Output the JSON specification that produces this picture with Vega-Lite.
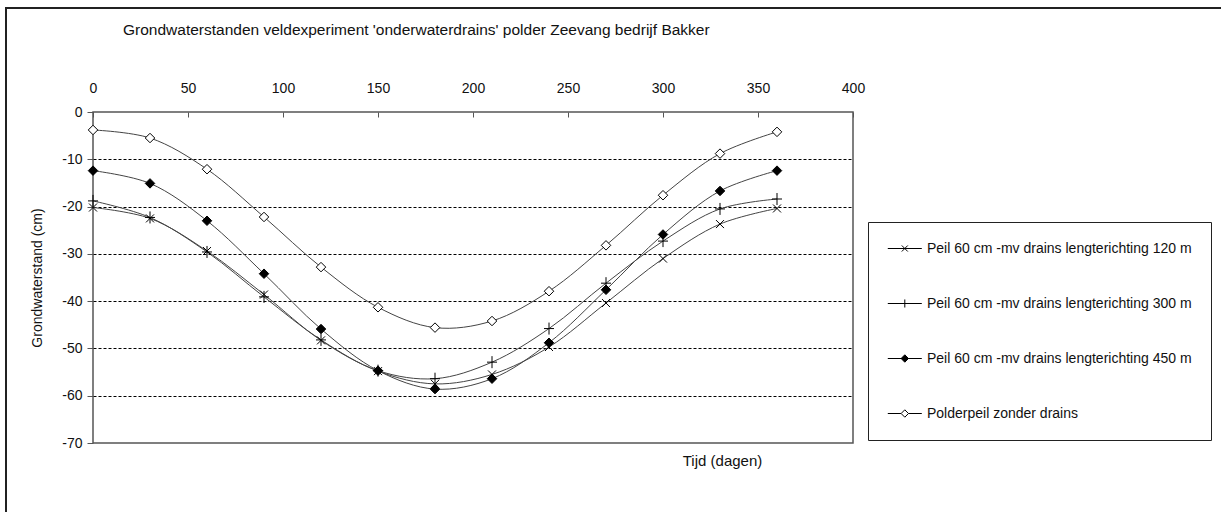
{
  "$schema": "https://vega.github.io/schema/vega-lite/v6.json",
  "autosize": {"type": "none"},
  "padding": {"left": 93, "top": 112, "right": 368, "bottom": 69},
  "width": 760,
  "height": 331,
  "background": "white",
  "title": {
    "text": "Grondwaterstanden veldexperiment 'onderwaterdrains' polder Zeevang bedrijf Bakker",
    "anchor": "start",
    "frame": "group",
    "dx": 30,
    "offset": -31,
    "font": "Liberation Sans",
    "fontSize": 15.5,
    "fontWeight": "normal",
    "color": "#111"
  },
  "config": {
    "view": {"stroke": "#555", "strokeWidth": 1.5},
    "font": "Liberation Sans"
  },
  "data": {
    "values": [
      {"series": "Peil 60 cm -mv drains lengterichting 120 m", "day": 0, "level": -20.2},
      {"series": "Peil 60 cm -mv drains lengterichting 120 m", "day": 30, "level": -22.5},
      {"series": "Peil 60 cm -mv drains lengterichting 120 m", "day": 60, "level": -29.4},
      {"series": "Peil 60 cm -mv drains lengterichting 120 m", "day": 90, "level": -38.6},
      {"series": "Peil 60 cm -mv drains lengterichting 120 m", "day": 120, "level": -48.3},
      {"series": "Peil 60 cm -mv drains lengterichting 120 m", "day": 150, "level": -54.8},
      {"series": "Peil 60 cm -mv drains lengterichting 120 m", "day": 180, "level": -57.5},
      {"series": "Peil 60 cm -mv drains lengterichting 120 m", "day": 210, "level": -55.5},
      {"series": "Peil 60 cm -mv drains lengterichting 120 m", "day": 240, "level": -49.7},
      {"series": "Peil 60 cm -mv drains lengterichting 120 m", "day": 270, "level": -40.4},
      {"series": "Peil 60 cm -mv drains lengterichting 120 m", "day": 300, "level": -31.0},
      {"series": "Peil 60 cm -mv drains lengterichting 120 m", "day": 330, "level": -23.7},
      {"series": "Peil 60 cm -mv drains lengterichting 120 m", "day": 360, "level": -20.4},
      {"series": "Peil 60 cm -mv drains lengterichting 300 m", "day": 0, "level": -18.8},
      {"series": "Peil 60 cm -mv drains lengterichting 300 m", "day": 30, "level": -22.3},
      {"series": "Peil 60 cm -mv drains lengterichting 300 m", "day": 60, "level": -29.6},
      {"series": "Peil 60 cm -mv drains lengterichting 300 m", "day": 90, "level": -39.1},
      {"series": "Peil 60 cm -mv drains lengterichting 300 m", "day": 120, "level": -48.2},
      {"series": "Peil 60 cm -mv drains lengterichting 300 m", "day": 150, "level": -54.7},
      {"series": "Peil 60 cm -mv drains lengterichting 300 m", "day": 180, "level": -56.4},
      {"series": "Peil 60 cm -mv drains lengterichting 300 m", "day": 210, "level": -52.9},
      {"series": "Peil 60 cm -mv drains lengterichting 300 m", "day": 240, "level": -45.8},
      {"series": "Peil 60 cm -mv drains lengterichting 300 m", "day": 270, "level": -36.2},
      {"series": "Peil 60 cm -mv drains lengterichting 300 m", "day": 300, "level": -27.3},
      {"series": "Peil 60 cm -mv drains lengterichting 300 m", "day": 330, "level": -20.5},
      {"series": "Peil 60 cm -mv drains lengterichting 300 m", "day": 360, "level": -18.4},
      {"series": "Peil 60 cm -mv drains lengterichting 450 m", "day": 0, "level": -12.4},
      {"series": "Peil 60 cm -mv drains lengterichting 450 m", "day": 30, "level": -15.1},
      {"series": "Peil 60 cm -mv drains lengterichting 450 m", "day": 60, "level": -23.0},
      {"series": "Peil 60 cm -mv drains lengterichting 450 m", "day": 90, "level": -34.2},
      {"series": "Peil 60 cm -mv drains lengterichting 450 m", "day": 120, "level": -45.9},
      {"series": "Peil 60 cm -mv drains lengterichting 450 m", "day": 150, "level": -54.7},
      {"series": "Peil 60 cm -mv drains lengterichting 450 m", "day": 180, "level": -58.6},
      {"series": "Peil 60 cm -mv drains lengterichting 450 m", "day": 210, "level": -56.4},
      {"series": "Peil 60 cm -mv drains lengterichting 450 m", "day": 240, "level": -48.8},
      {"series": "Peil 60 cm -mv drains lengterichting 450 m", "day": 270, "level": -37.6},
      {"series": "Peil 60 cm -mv drains lengterichting 450 m", "day": 300, "level": -25.9},
      {"series": "Peil 60 cm -mv drains lengterichting 450 m", "day": 330, "level": -16.7},
      {"series": "Peil 60 cm -mv drains lengterichting 450 m", "day": 360, "level": -12.4},
      {"series": "Polderpeil zonder drains", "day": 0, "level": -3.8},
      {"series": "Polderpeil zonder drains", "day": 30, "level": -5.5},
      {"series": "Polderpeil zonder drains", "day": 60, "level": -12.1},
      {"series": "Polderpeil zonder drains", "day": 90, "level": -22.2},
      {"series": "Polderpeil zonder drains", "day": 120, "level": -32.8},
      {"series": "Polderpeil zonder drains", "day": 150, "level": -41.3},
      {"series": "Polderpeil zonder drains", "day": 180, "level": -45.6},
      {"series": "Polderpeil zonder drains", "day": 210, "level": -44.2},
      {"series": "Polderpeil zonder drains", "day": 240, "level": -37.9},
      {"series": "Polderpeil zonder drains", "day": 270, "level": -28.2},
      {"series": "Polderpeil zonder drains", "day": 300, "level": -17.6},
      {"series": "Polderpeil zonder drains", "day": 330, "level": -8.8},
      {"series": "Polderpeil zonder drains", "day": 360, "level": -4.2}
    ]
  },
  "layer": [
    {
      "mark": {"type": "rect", "fill": null, "fillOpacity": 0, "stroke": "#222", "strokeWidth": 1.5, "clip": false},
      "encoding": {
        "x": {"datum": -45.8, "type": "quantitative", "scale": {"domain": [0, 400], "nice": false, "zero": false}, "axis": null},
        "x2": {"datum": 600},
        "y": {"datum": 22.0, "type": "quantitative", "scale": {"domain": [-70, 0], "nice": false, "zero": false}, "axis": null},
        "y2": {"datum": -90}
      }
    },
    {
      "mark": {"type": "line", "interpolate": "catmull-rom", "stroke": "#444", "strokeWidth": 1},
      "encoding": {
        "x": {
          "field": "day", "type": "quantitative",
          "axis": {
            "orient": "top", "values": [0, 50, 100, 150, 200, 250, 300, 350, 400],
            "title": null, "domain": false, "grid": false, "labelFlush": false,
            "tickSize": -5, "tickColor": "#555", "labelPadding": 22,
            "labelFont": "Liberation Sans", "labelFontSize": 14, "labelColor": "#111"
          }
        },
        "y": {
          "field": "level", "type": "quantitative",
          "axis": {
            "orient": "left", "values": [0, -10, -20, -30, -40, -50, -60, -70],
            "labelExpr": "toString(datum.value)",
            "title": "Grondwaterstand (cm)", "titleFont": "Liberation Sans", "titleFontSize": 14,
            "titleFontWeight": "normal", "titleColor": "#111", "titlePadding": 17,
            "domain": false, "tickSize": 6, "tickColor": "#555", "labelPadding": 5, "labelFlush": false,
            "labelFont": "Liberation Sans", "labelFontSize": 14, "labelColor": "#111",
            "grid": true, "gridColor": "#000", "gridDash": [3, 2], "gridWidth": 1,
            "gridOpacity": {"condition": {"test": "datum.value == 0 || datum.value == -70", "value": 0}, "value": 1}
          }
        },
        "detail": {"field": "series"}
      }
    },
    {
      "mark": {"type": "point", "filled": true, "stroke": "#000", "strokeWidth": 1, "size": 100, "opacity": 1},
      "encoding": {
        "x": {"field": "day", "type": "quantitative", "axis": null},
        "y": {"field": "level", "type": "quantitative", "axis": null},
        "shape": {
          "field": "series", "type": "nominal", "legend": null,
          "scale": {
            "domain": ["Peil 60 cm -mv drains lengterichting 120 m", "Peil 60 cm -mv drains lengterichting 300 m", "Peil 60 cm -mv drains lengterichting 450 m", "Polderpeil zonder drains"],
            "range": ["M-0.8,-0.8L0.8,0.8M-0.8,0.8L0.8,-0.8", "M-1,0H1M0,-1.2V1.2", "M0,-0.95L0.95,0L0,0.95L-0.95,0Z", "M0,-0.95L0.95,0L0,0.95L-0.95,0Z"]
          }
        },
        "fill": {
          "field": "series", "type": "nominal", "legend": null,
          "scale": {
            "domain": ["Peil 60 cm -mv drains lengterichting 120 m", "Peil 60 cm -mv drains lengterichting 300 m", "Peil 60 cm -mv drains lengterichting 450 m", "Polderpeil zonder drains"],
            "range": ["white", "white", "black", "white"]
          }
        }
      }
    },
    {
      "transform": [{"filter": "datum.day < 0"}],
      "mark": {"type": "point", "filled": false, "stroke": "#000", "strokeWidth": 1, "size": 180, "opacity": 1},
      "encoding": {
        "x": {
          "field": "day", "type": "quantitative",
          "axis": {
            "orient": "bottom", "labels": false, "ticks": false, "domain": false, "grid": false,
            "title": "Tijd (dagen)", "titleX": 629, "titleY": 17, "titleAlign": "center", "titleBaseline": "middle",
            "titleFont": "Liberation Sans", "titleFontSize": 15, "titleFontWeight": "normal", "titleColor": "#111"
          }
        },
        "y": {"field": "level", "type": "quantitative", "axis": null},
        "shape": {
          "field": "series", "type": "nominal",
          "scale": {
            "domain": ["Peil 60 cm -mv drains lengterichting 120 m", "Peil 60 cm -mv drains lengterichting 300 m", "Peil 60 cm -mv drains lengterichting 450 m", "Polderpeil zonder drains"],
            "range": [
              "M-1,0H4.07M1.09,-0.45L1.98,0.45M1.09,0.45L1.98,-0.45",
              "M-1,0H4.07M1.536,-0.6V0.6",
              "M-1,0H4.07M1.536,-0.55L2.086,0L1.536,0.55L0.986,0Z",
              "M-1,0H0.986M2.086,0H4.07M1.536,-0.55L2.086,0L1.536,0.55L0.986,0Z"
            ]
          },
          "legend": {
            "title": null, "orient": "none", "legendX": 775, "legendY": 110,
            "strokeColor": "#222", "padding": 19,
            "rowPadding": 40, "labelOffset": 25,
            "labelFont": "Liberation Sans", "labelFontSize": 14, "labelColor": "#111",
            "symbolStrokeWidth": 1, "symbolSize": 180, "labelLimit": 400
          }
        },
        "fill": {
          "field": "series", "type": "nominal",
          "scale": {
            "domain": ["Peil 60 cm -mv drains lengterichting 120 m", "Peil 60 cm -mv drains lengterichting 300 m", "Peil 60 cm -mv drains lengterichting 450 m", "Polderpeil zonder drains"],
            "range": ["white", "white", "black", "white"]
          },
          "legend": {
            "title": null, "orient": "none", "legendX": 775, "legendY": 110,
            "strokeColor": "#222", "padding": 19,
            "rowPadding": 40, "labelOffset": 25,
            "labelFont": "Liberation Sans", "labelFontSize": 14, "labelColor": "#111",
            "symbolStrokeWidth": 1, "symbolSize": 180, "labelLimit": 400
          }
        }
      }
    }
  ],
  "resolve": {
    "scale": {"shape": "independent", "fill": "independent"},
    "axis": {"x": "independent", "y": "independent"}
  }
}
